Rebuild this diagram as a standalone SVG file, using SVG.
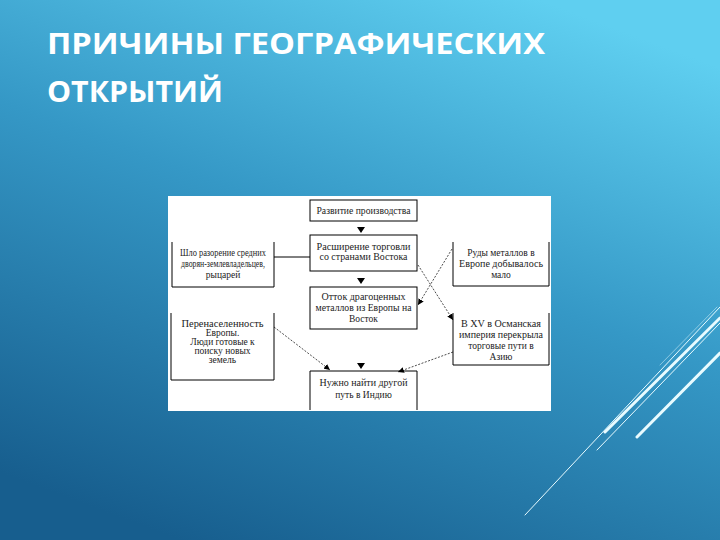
<svg xmlns="http://www.w3.org/2000/svg" width="720" height="540" viewBox="0 0 720 540">
<defs>
<linearGradient id="bg" x1="0.75" y1="0" x2="0.25" y2="1">
<stop offset="0" stop-color="#5fcff0"/>
<stop offset="0.45" stop-color="#3598c6"/>
<stop offset="1" stop-color="#175e8e"/>
</linearGradient>
<marker id="ah" viewBox="0 0 10 10" refX="10" refY="5" markerWidth="6" markerHeight="6" orient="auto" markerUnits="userSpaceOnUse">
<path d="M0,0 L10,5 L0,10 z" fill="#000"/>
</marker>
<style>
.title{font-family:"Open Sans","DejaVu Sans",sans-serif;font-weight:bold;font-size:29px;fill:#fff}
.box{fill:#fff;stroke:#000;stroke-width:1}
.open{fill:none;stroke:#000;stroke-width:1}
.t{font-family:"Liberation Serif","Times New Roman",serif;font-size:9.5px;fill:#222;text-anchor:middle}
.dash{fill:none;stroke:#000;stroke-width:0.7;stroke-dasharray:2,1.5}
.deco{stroke:#e8fbff;fill:none;stroke-linecap:round}
</style>
</defs>
<rect x="0" y="0" width="720" height="540" fill="url(#bg)"/>
<g id="decor">
<line class="deco" x1="525" y1="515" x2="720" y2="307" stroke-width="1"/>
<line class="deco" x1="605" y1="432" x2="720" y2="318" stroke-width="3"/>
<line class="deco" x1="597" y1="450" x2="720" y2="323" stroke-width="1"/>
<line class="deco" x1="660" y1="365" x2="717" y2="307" stroke-width="0.8" opacity="0.6"/>
<line class="deco" x1="637" y1="437" x2="720" y2="353" stroke-width="3"/>
</g>
<text class="title" x="47" y="54" textLength="498" lengthAdjust="spacingAndGlyphs">ПРИЧИНЫ ГЕОГРАФИЧЕСКИХ</text>
<text class="title" x="47" y="102" textLength="176" lengthAdjust="spacingAndGlyphs">ОТКРЫТИЙ</text>
<rect x="168" y="196" width="383" height="215" fill="#fff"/>
<g id="connectors">
<line x1="274" y1="257" x2="310" y2="257" stroke="#000" stroke-width="1"/>
<path d="M357,227 L365,227 L361,233 z" fill="#000"/>
<path d="M357,278 L365,278 L361,284 z" fill="#000"/>
<path d="M357,363 L365,363 L361,369 z" fill="#000"/>
<line class="dash" x1="418" y1="265" x2="453" y2="320" marker-end="url(#ah)"/>
<line class="dash" x1="452" y1="249" x2="418" y2="305" marker-end="url(#ah)"/>
<line class="dash" x1="274" y1="327" x2="330" y2="370" marker-end="url(#ah)"/>
<line class="dash" x1="453" y1="352" x2="398" y2="372" marker-end="url(#ah)"/>
</g>
<g id="n1">
<rect class="box" x="310" y="200" width="107" height="21"/>
<text class="t" x="363.5" y="214" textLength="94" lengthAdjust="spacingAndGlyphs">Развитие производства</text>
</g>
<g id="n2">
<rect class="box" x="310" y="235" width="107" height="36"/>
<text class="t" x="363.5" y="250" textLength="94" lengthAdjust="spacingAndGlyphs">Расширение торговли</text>
<text class="t" x="363.5" y="260" textLength="88" lengthAdjust="spacingAndGlyphs">со странами Востока</text>
</g>
<g id="n3">
<rect class="box" x="310" y="287" width="107" height="42"/>
<text class="t" x="363.5" y="300" textLength="84" lengthAdjust="spacingAndGlyphs">Отток драгоценных</text>
<text class="t" x="363.5" y="311" textLength="96" lengthAdjust="spacingAndGlyphs">металлов из Европы на</text>
<text class="t" x="363.5" y="322">Восток</text>
</g>
<g id="n4">
<path class="open" d="M310,410 L310,371 L417,371 L417,410"/>
<text class="t" x="363.5" y="386" textLength="88" lengthAdjust="spacingAndGlyphs">Нужно найти другой</text>
<text class="t" x="363.5" y="398">путь в Индию</text>
</g>
<g id="n5">
<path class="open" d="M172,242 L172,287 L274,287 L274,242"/>
<text class="t" x="223" y="256" textLength="86" lengthAdjust="spacingAndGlyphs">Шло разорение средних</text>
<text class="t" x="223" y="267" textLength="84" lengthAdjust="spacingAndGlyphs">дворян-землевладельцев,</text>
<text class="t" x="223" y="278">рыцарей</text>
</g>
<g id="n6">
<path class="open" d="M171,313 L171,380 L274,380 L274,313"/>
<text class="t" x="222.5" y="327" textLength="82" lengthAdjust="spacingAndGlyphs">Перенаселенность</text>
<text class="t" x="222.5" y="336">Европы.</text>
<text class="t" x="222.5" y="345">Люди готовые к</text>
<text class="t" x="222.5" y="354">поиску новых</text>
<text class="t" x="222.5" y="363">земель</text>
</g>
<g id="n7">
<path class="open" d="M453,242 L453,286 L549,286 L549,242"/>
<text class="t" x="501" y="256">Руды металлов в</text>
<text class="t" x="501" y="267" textLength="84" lengthAdjust="spacingAndGlyphs">Европе добывалось</text>
<text class="t" x="501" y="278">мало</text>
</g>
<g id="n8">
<path class="open" d="M453,313 L453,365 L549,365 L549,313"/>
<text class="t" x="501" y="327" textLength="80" lengthAdjust="spacingAndGlyphs">В XV в Османская</text>
<text class="t" x="501" y="338" textLength="84" lengthAdjust="spacingAndGlyphs">империя перекрыла</text>
<text class="t" x="501" y="349">торговые пути в</text>
<text class="t" x="501" y="360">Азию</text>
</g>
</svg>
